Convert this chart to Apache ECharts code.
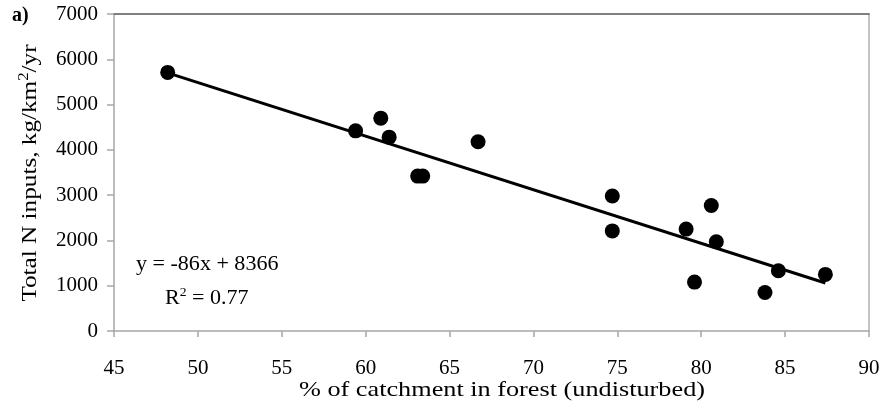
<!DOCTYPE html>
<html>
<head>
<meta charset="utf-8">
<script src="https://cdn.jsdelivr.net/npm/echarts@6/dist/echarts.min.js"></script>
<style>
  html, body { margin: 0; padding: 0; background: #fff; }
  #main { width: 886px; height: 408px; }
</style>
</head>
<body>
<div id="main"></div>
<script>
// % of catchment in forest vs total N inputs
const forestPct = [48.2, 59.4, 60.9, 61.4, 63.1, 63.4, 66.7, 74.7, 74.7, 79.1, 79.6, 80.6, 80.9, 83.8, 84.6, 87.4];
const nInputs   = [5710, 4420, 4700, 4280, 3420, 3420, 4180, 2980, 2210, 2250, 1080, 2770, 1970, 850, 1330, 1250];

// fitted line as drawn (end points)
const trendX = [48.1, 87.4];
const trendY = [5710, 1060];

const xTicks = [45, 50, 55, 60, 65, 70, 75, 80, 85, 90];
const yTicks = [0, 1000, 2000, 3000, 4000, 5000, 6000, 7000];

const FONT = 'Liberation Serif';
const chart = echarts.init(document.getElementById('main'));

const points = forestPct.map((x, i) => [x, nInputs[i]]);
const trend = trendX.map((x, i) => [x, trendY[i]]);

const option = {
  animation: false,
  textStyle: { fontFamily: FONT },
  grid: { left: 114, right: 17, top: 14, bottom: 77 },
  xAxis: [
    {
      type: 'value',
      min: xTicks[0],
      max: xTicks[xTicks.length - 1],
      interval: 5,
      splitLine: { show: false },
      axisLine: { lineStyle: { color: '#a6a6a6', width: 1.5 } },
      axisTick: { show: true, length: 6, lineStyle: { color: '#a6a6a6', width: 1.5 } },
      axisLabel: { color: '#000', fontFamily: FONT, fontSize: 21, margin: 27 }
    },
    {
      type: 'value',
      position: 'top',
      min: xTicks[0],
      max: xTicks[xTicks.length - 1],
      axisLine: { show: true, onZero: false, lineStyle: { color: '#555', width: 1.5 } },
      axisTick: { show: false },
      axisLabel: { show: false },
      splitLine: { show: false }
    }
  ],
  yAxis: [
    {
      type: 'value',
      min: yTicks[0],
      max: yTicks[yTicks.length - 1],
      interval: 1000,
      splitLine: { show: false },
      axisLine: { show: true, lineStyle: { color: '#a6a6a6', width: 1.5 } },
      axisTick: { show: true, length: 7, lineStyle: { color: '#a6a6a6', width: 1.5 } },
      axisLabel: { color: '#000', fontFamily: FONT, fontSize: 21, margin: 16, formatter: v => String(v) }
    },
    {
      type: 'value',
      position: 'right',
      min: yTicks[0],
      max: yTicks[yTicks.length - 1],
      axisLine: { show: true, onZero: false, lineStyle: { color: '#b0b0b0', width: 1.5 } },
      axisTick: { show: false },
      axisLabel: { show: false },
      splitLine: { show: false }
    }
  ],
  graphic: [
    {
      type: 'text',
      left: 12,
      top: 6,
      style: { text: 'a)', fontFamily: FONT, fontSize: 20, fontWeight: 'bold', fill: '#000' }
    },
    // axis titles
    {
      type: 'text',
      x: 502,
      y: 390,
      scaleX: 1.25,
      style: {
        text: '% of catchment in forest (undisturbed)',
        fontFamily: FONT, fontSize: 21, fill: '#000',
        align: 'center', verticalAlign: 'middle'
      }
    },
    {
      type: 'text',
      x: 30,
      y: 173,
      rotation: Math.PI / 2,
      scaleX: 1.2,
      style: {
        text: '{t|Total N inputs, kg/km}{s|2}{t|/yr}',
        fill: '#000',
        align: 'center', verticalAlign: 'middle',
        rich: {
          t: { fontFamily: FONT, fontSize: 21, fill: '#000' },
          s: { fontFamily: FONT, fontSize: 14, fill: '#000', verticalAlign: 'top', padding: [0, 0, 12, 0] }
        }
      }
    },
    // regression annotation
    {
      type: 'text',
      x: 136,
      y: 264,
      scaleX: 1.05,
      style: {
        text: 'y = -86x + 8366',
        fontFamily: FONT, fontSize: 21, fill: '#000',
        verticalAlign: 'middle'
      }
    },
    {
      type: 'text',
      x: 165,
      y: 298,
      scaleX: 1.05,
      style: {
        text: '{t|R}{s|2}{t| = 0.77}',
        fill: '#000',
        verticalAlign: 'middle',
        rich: {
          t: { fontFamily: FONT, fontSize: 21, fill: '#000' },
          s: { fontFamily: FONT, fontSize: 13, fill: '#000', verticalAlign: 'top', padding: [0, 0, 10, 0] }
        }
      }
    }
  ],
  series: [
    {
      type: 'line',
      data: trend,
      symbol: 'none',
      lineStyle: { color: '#000', width: 3 },
      z: 2
    },
    {
      type: 'scatter',
      data: points,
      symbol: 'circle',
      symbolSize: 15,
      itemStyle: { color: '#000', opacity: 1 },
      z: 3
    }
  ]
};

chart.setOption(option);
</script>
</body>
</html>
